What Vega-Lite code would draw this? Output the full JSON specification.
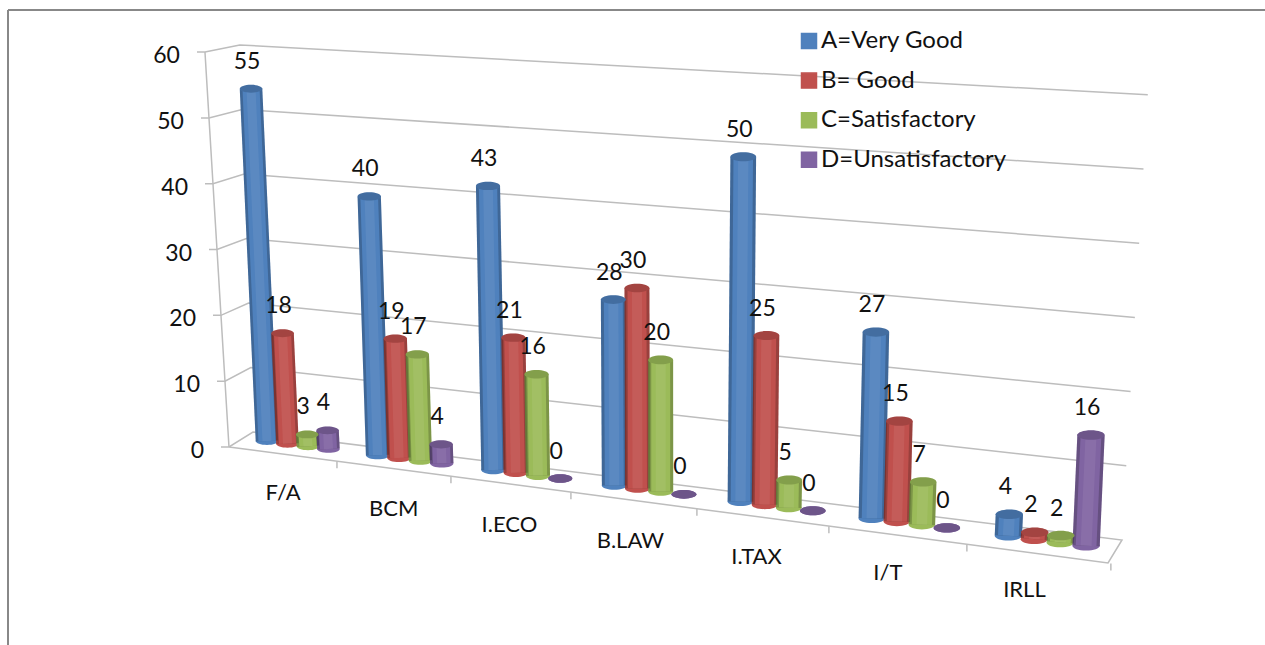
{"$schema":"https://vega.github.io/schema/vega-lite/v6.json","width":1257,"height":635,"padding":{"left":8,"top":10,"right":0,"bottom":0},"autosize":{"type":"none"},"background":"white","config":{"view":{"stroke":null},"font":"Lato","text":{"font":"Lato"}},"datasets":{"frame":[{"edge":"frame"}],"grid":[{"level":0,"point":0},{"level":0,"point":1},{"level":0,"point":2},{"level":0,"point":3},{"level":0,"point":4},{"level":0,"point":5},{"level":10,"point":0},{"level":10,"point":1},{"level":10,"point":2},{"level":10,"point":3},{"level":20,"point":0},{"level":20,"point":1},{"level":20,"point":2},{"level":20,"point":3},{"level":30,"point":0},{"level":30,"point":1},{"level":30,"point":2},{"level":30,"point":3},{"level":40,"point":0},{"level":40,"point":1},{"level":40,"point":2},{"level":40,"point":3},{"level":50,"point":0},{"level":50,"point":1},{"level":50,"point":2},{"level":50,"point":3},{"level":60,"point":0},{"level":60,"point":1},{"level":60,"point":2},{"level":60,"point":3}],"floorTicks":[{"tick":1},{"tick":2},{"tick":3},{"tick":4},{"tick":5},{"tick":6},{"tick":7}],"scores":[{"category":"F/A","series":"A=Very Good","value":55},{"category":"F/A","series":"B= Good","value":18},{"category":"F/A","series":"C=Satisfactory","value":3},{"category":"F/A","series":"D=Unsatisfactory","value":4},{"category":"BCM","series":"A=Very Good","value":40},{"category":"BCM","series":"B= Good","value":19},{"category":"BCM","series":"C=Satisfactory","value":17},{"category":"BCM","series":"D=Unsatisfactory","value":4},{"category":"I.ECO","series":"A=Very Good","value":43},{"category":"I.ECO","series":"B= Good","value":21},{"category":"I.ECO","series":"C=Satisfactory","value":16},{"category":"I.ECO","series":"D=Unsatisfactory","value":0},{"category":"B.LAW","series":"A=Very Good","value":28},{"category":"B.LAW","series":"B= Good","value":30},{"category":"B.LAW","series":"C=Satisfactory","value":20},{"category":"B.LAW","series":"D=Unsatisfactory","value":0},{"category":"I.TAX","series":"A=Very Good","value":50},{"category":"I.TAX","series":"B= Good","value":25},{"category":"I.TAX","series":"C=Satisfactory","value":5},{"category":"I.TAX","series":"D=Unsatisfactory","value":0},{"category":"I/T","series":"A=Very Good","value":27},{"category":"I/T","series":"B= Good","value":15},{"category":"I/T","series":"C=Satisfactory","value":7},{"category":"I/T","series":"D=Unsatisfactory","value":0},{"category":"IRLL","series":"A=Very Good","value":4},{"category":"IRLL","series":"B= Good","value":2},{"category":"IRLL","series":"C=Satisfactory","value":2},{"category":"IRLL","series":"D=Unsatisfactory","value":16}]},"layer":[{"data":{"name":"frame"},"mark":{"type":"rule","color":"#888888","strokeWidth":2},"encoding":{"x":{"datum":-2.097,"type":"quantitative","scale":{"domain":[-2.097,8.081],"nice":false,"zero":false},"axis":null}}},{"data":{"name":"frame"},"mark":{"type":"rule","color":"#888888","strokeWidth":2},"encoding":{"y":{"datum":66.72,"type":"quantitative","scale":{"domain":[-30.23,66.72],"nice":false,"zero":false},"axis":null}}},{"data":{"name":"grid"},"transform":[{"calculate":"datum.point==0?-0.3725-0.00324*datum.level:datum.point==1?-0.3077-0.00324*datum.level:datum.point==2?-0.1134-0.00178*datum.level:datum.point==3?6.923+0.00348*datum.level:datum.point==4?6.81:-0.3077","as":"gx"},{"calculate":"datum.point<2?1.005*datum.level:datum.point==2?2.29+0.985*datum.level:datum.point==3?-14.2+1.133*datum.level:datum.point==4?-17.71:0","as":"gy"}],"layer":[{"mark":{"type":"line","color":"#bdbdbd","strokeWidth":1.5},"encoding":{"x":{"field":"gx","type":"quantitative","scale":{"domain":[-2.097,8.081],"nice":false,"zero":false},"axis":null},"y":{"field":"gy","type":"quantitative","scale":{"domain":[-30.23,66.72],"nice":false,"zero":false},"axis":null},"detail":{"field":"level"},"order":{"field":"point"}}},{"transform":[{"filter":"datum.point==1"}],"mark":{"type":"line","color":"#bdbdbd","strokeWidth":1.5},"encoding":{"x":{"field":"gx","type":"quantitative","axis":null},"y":{"field":"gy","type":"quantitative","axis":null},"order":{"field":"level"}}},{"transform":[{"filter":"datum.point==0"}],"mark":{"type":"text","align":"right","baseline":"middle","dx":-17,"dy":4,"fontSize":23,"color":"#111111"},"encoding":{"x":{"field":"gx","type":"quantitative","axis":null},"y":{"field":"gy","type":"quantitative","axis":null},"text":{"field":"level"}}}]},{"data":{"name":"floorTicks"},"transform":[{"calculate":"-0.3077+0.85*datum.tick+0.0243*datum.tick*datum.tick","as":"tx"},{"calculate":"-2.116*datum.tick-0.0604*datum.tick*datum.tick","as":"ty"},{"calculate":"datum.ty-1.07","as":"ty2"}],"mark":{"type":"rule","color":"#bdbdbd","strokeWidth":1.5},"encoding":{"x":{"field":"tx","type":"quantitative","axis":null},"y":{"field":"ty","type":"quantitative","axis":null},"y2":{"field":"ty2"}}},{"data":{"name":"scores"},"transform":[{"calculate":"indexof(['F/A','BCM','I.ECO','B.LAW','I.TAX','I/T','IRLL'],datum.category)","as":"c"},{"calculate":"indexof(['A=Very Good','B= Good','C=Satisfactory','D=Unsatisfactory'],datum.series)","as":"k"},{"calculate":"datum.c*(0.8745+0.021*datum.c)+datum.k*(0.166+0.0073*datum.c)","as":"sBase"},{"calculate":"0.305-2.41*datum.sBase+0.6","as":"uBase"},{"calculate":"max(datum.uBase,0.305-2.41*datum.sBase+datum.value*(1+0.02*datum.sBase)-0.6)","as":"uTop"},{"calculate":"datum.sBase+datum.value*(-0.00235+0.00073*datum.sBase)","as":"sTop"},{"calculate":"22.5+0.8*datum.c","as":"w"},{"calculate":"datum.w*datum.w","as":"capArea"},{"calculate":"datum.w*0.76","as":"wInner"},{"calculate":"datum.w*0.4","as":"wGlow"}],"layer":[{"mark":{"type":"point","filled":true,"opacity":1,"shape":"M-1,0A1,0.35,0,1,1,1,0A1,0.35,0,1,1,-1,0Z"},"encoding":{"x":{"field":"sBase","type":"quantitative","axis":null},"y":{"field":"uBase","type":"quantitative","axis":null},"size":{"field":"capArea","type":"quantitative","scale":null},"color":{"field":"series","type":"nominal","scale":{"domain":["A=Very Good","B= Good","C=Satisfactory","D=Unsatisfactory"],"range":["#4f81bd","#c0504d","#9bbb59","#8064a2"]},"legend":{"title":null,"orient":"none","legendX":789,"legendY":19,"symbolType":"square","symbolSize":225,"symbolOpacity":1,"labelFont":"Lato","labelFontSize":24,"labelColor":"#111111","labelOffset":0,"rowPadding":15.6,"labelLimit":300,"labelExpr":"(datum.value=='A=Very Good'?'\u2002':'')+datum.label"}}}},{"mark":{"type":"rule"},"encoding":{"x":{"field":"sTop","type":"quantitative","axis":null},"x2":{"field":"sBase"},"y":{"field":"uTop","type":"quantitative","axis":null},"y2":{"field":"uBase"},"size":{"field":"w","type":"quantitative","scale":null},"color":{"field":"series","type":"nominal","legend":null}}},{"mark":{"type":"rule","color":"#000000","opacity":0.2},"encoding":{"x":{"field":"sTop","type":"quantitative","axis":null},"x2":{"field":"sBase"},"y":{"field":"uTop","type":"quantitative","axis":null},"y2":{"field":"uBase"},"size":{"field":"w","type":"quantitative","scale":null}}},{"mark":{"type":"rule"},"encoding":{"x":{"field":"sTop","type":"quantitative","axis":null},"x2":{"field":"sBase"},"y":{"field":"uTop","type":"quantitative","axis":null},"y2":{"field":"uBase"},"size":{"field":"wInner","type":"quantitative","scale":null},"color":{"field":"series","type":"nominal","legend":null}}},{"mark":{"type":"rule","color":"#ffffff","opacity":0.07},"encoding":{"x":{"field":"sTop","type":"quantitative","axis":null},"x2":{"field":"sBase"},"y":{"field":"uTop","type":"quantitative","axis":null},"y2":{"field":"uBase"},"size":{"field":"wGlow","type":"quantitative","scale":null}}},{"mark":{"type":"point","filled":true,"opacity":1,"shape":"M-1,0A1,0.35,0,1,1,1,0A1,0.35,0,1,1,-1,0Z"},"encoding":{"x":{"field":"sTop","type":"quantitative","axis":null},"y":{"field":"uTop","type":"quantitative","axis":null},"size":{"field":"capArea","type":"quantitative","scale":null},"color":{"field":"series","type":"nominal","legend":null}}},{"mark":{"type":"point","filled":true,"opacity":0.15,"color":"#000000","shape":"M-1,0A1,0.35,0,1,1,1,0A1,0.35,0,1,1,-1,0Z"},"encoding":{"x":{"field":"sTop","type":"quantitative","axis":null},"y":{"field":"uTop","type":"quantitative","axis":null},"size":{"field":"capArea","type":"quantitative","scale":null}}},{"mark":{"type":"text","baseline":"middle","align":"center","dx":-4,"dy":-27,"fontSize":23,"color":"#111111"},"encoding":{"x":{"field":"sTop","type":"quantitative","axis":null},"y":{"field":"uTop","type":"quantitative","axis":null},"text":{"field":"value"}}},{"transform":[{"filter":"datum.k==0"},{"calculate":"datum.sBase+0.13","as":"sLabel"},{"calculate":"-6.96-2.47*datum.c","as":"uLabel"}],"mark":{"type":"text","baseline":"middle","align":"center","fontSize":22,"color":"#111111"},"encoding":{"x":{"field":"sLabel","type":"quantitative","axis":null},"y":{"field":"uLabel","type":"quantitative","axis":null},"text":{"field":"category"}}}]}]}
